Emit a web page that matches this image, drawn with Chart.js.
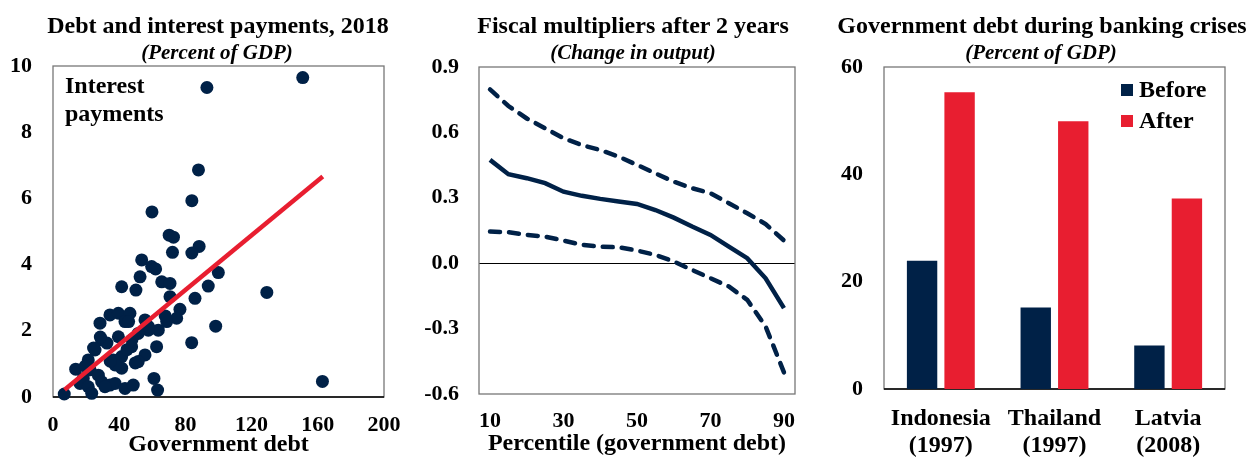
<!DOCTYPE html>
<html>
<head>
<meta charset="utf-8">
<script src="https://cdn.jsdelivr.net/npm/chart.js"></script>
<style>
  body { margin: 0; background: #fff; }
  #page { position: relative; width: 1250px; height: 459px; overflow: hidden;
          font-family: 'Liberation Serif', 'Times New Roman', serif; font-weight: bold; color: #000; }
  canvas { position: absolute; top: 0; }
  .title { position: absolute; top: 11px; width: 500px; text-align: center; font-size: 24px; line-height: 28px; white-space: nowrap; }
  .sub { position: absolute; top: 40px; width: 400px; text-align: center; font-size: 21px; line-height: 24px; font-style: italic; white-space: nowrap; }
  .note { position: absolute; font-size: 24px; line-height: 28px; }
  .key { position: absolute; font-size: 24px; line-height: 28px; white-space: nowrap; }
  .swatch { position: absolute; width: 12px; height: 12px; }
</style>
</head>
<body>
<div id="page">
  <canvas id="c1" width="400" height="459" style="left:0"></canvas>
  <canvas id="c2" width="420" height="459" style="left:400px"></canvas>
  <canvas id="c3" width="430" height="459" style="left:820px"></canvas>

  <div class="title" style="left:-32px">Debt and interest payments, 2018</div>
  <div class="sub" style="left:17px">(Percent of GDP)</div>
  <div class="note" style="left:65px; top:71px">Interest<br>payments</div>

  <div class="title" style="left:383px">Fiscal multipliers after 2 years</div>
  <div class="sub" style="left:433px">(Change in output)</div>

  <div class="title" style="left:792px">Government debt during banking crises</div>
  <div class="sub" style="left:841px">(Percent of GDP)</div>
  <div class="swatch" style="left:1121px; top:84px; background:#002147"></div>
  <div class="key" style="left:1139px; top:75px">Before</div>
  <div class="swatch" style="left:1121px; top:115px; background:#E81E30"></div>
  <div class="key" style="left:1139px; top:106px">After</div>
</div>
<script>
// panel 1: debt vs interest payments (percent of GDP)
const debtX = [150.9, 93, 87.9, 83.9, 59.8, 70.2, 72.8, 88.3, 83.9, 72.2, 53.6, 59.6, 62, 52.6, 65.7, 70.7,
  41.5, 50.1, 70.7, 85.8, 93.8, 99.9, 129.2, 76.7, 74.7, 68.7, 67.8, 63.6, 62.6, 83.8, 98.3, 28.4,
  34.4, 39.5, 46.5, 43.5, 55.6, 57.6, 51.5, 29.4, 25.4, 39.5, 47.5, 55.6, 51.5, 41.5, 36.4, 21.3,
  41.5, 37.5, 13.7, 22.4, 27.4, 18.3, 29.4, 34.4, 37.5, 16.3, 21.3, 43.5, 48.5, 61, 63.2, 6.8,
  23.4, 31.4, 162.8, 32.6, 44.7, 47.7, 57.7, 45.7, 34.6, 19.5, 28.6, 24.5, 49.7];
const interestY = [9.65, 9.35, 6.86, 5.93, 5.59, 4.89, 4.83, 4.55, 4.35, 4.37, 4.14, 3.94, 3.87, 3.63, 3.48, 3.43,
  3.33, 3.23, 3.03, 2.98, 3.35, 3.76, 3.16, 2.65, 2.38, 2.28, 2.45, 2.02, 1.52, 1.64, 2.14, 2.23,
  2.48, 2.53, 2.53, 2.28, 2.33, 2.02, 1.92, 1.72, 1.42, 1.82, 1.52, 1.27, 1.07, 1.22, 1.12, 1.12,
  0.87, 0.97, 0.84, 0.82, 0.66, 0.56, 0.46, 0.36, 0.41, 0.41, 0.31, 0.26, 0.36, 0.56, 0.21, 0.09,
  0.11, 0.31, 0.47, 1.63, 1.43, 1.73, 2.13, 2.28, 1.08, 0.93, 1.81, 1.48, 1.03];
const trendX = [7, 163];
const trendY = [0.22, 6.66];

// panel 2: multipliers by debt percentile
const percentile = [10, 15, 20, 25, 30, 35, 40, 45, 50, 55, 60, 65, 70, 75, 80, 85, 90];
const multiplier = [0.474, 0.408, 0.39, 0.367, 0.328, 0.309, 0.295, 0.283, 0.272, 0.244, 0.209, 0.168, 0.13, 0.076, 0.023, -0.069, -0.206];
const upperBand = [0.797, 0.721, 0.664, 0.619, 0.573, 0.542, 0.519, 0.489, 0.451, 0.412, 0.374, 0.344, 0.321, 0.275, 0.229, 0.18, 0.104];
const lowerBand = [0.145, 0.142, 0.13, 0.122, 0.104, 0.084, 0.076, 0.073, 0.058, 0.038, 0.008, -0.031, -0.069, -0.107, -0.168, -0.29, -0.501];
const pctTicks = [10, 30, 50, 70, 90];
const multTicks = [-0.6, -0.3, 0, 0.3, 0.6, 0.9];

// panel 3: debt before/after banking crises
const crisisCountries = ['Indonesia', 'Thailand', 'Latvia'];
const crisisYears = ['(1997)', '(1997)', '(2008)'];
const debtBefore = [23.9, 15.2, 8.1];
const debtAfter = [55.3, 49.9, 35.5];

const FONT = "'Liberation Serif', 'Times New Roman', serif";
const NAVY = '#002147';
const RED = '#E81E30';
Chart.defaults.font.family = FONT;
Chart.defaults.color = '#000';

const bold = size => ({ family: FONT, size: size, weight: 'bold' });
const pts = (xs, ys) => xs.map((x, i) => ({ x: x, y: ys[i] }));
const noGrid = { display: false, drawTicks: false };

// fixed axis sizes so the plot areas line up with the original
const fixHeight = h => s => { s.height = h; s.paddingLeft = 0; s.paddingRight = 0; };
const fixWidth = w => s => { s.width = w; s.paddingTop = 0; s.paddingBottom = 0; };

// plot frame, drawn under the marks
const frame = {
  id: 'frame',
  beforeDatasetsDraw(chart, args, opts) {
    const { ctx, chartArea: a } = chart;
    ctx.save();
    ctx.lineWidth = 1.3;
    ctx.strokeStyle = '#777';
    ctx.strokeRect(a.left, a.top, a.right - a.left, a.bottom - a.top);
    if (opts.base) {
      ctx.strokeStyle = opts.base;
      ctx.beginPath();
      ctx.moveTo(a.left, a.bottom);
      ctx.lineTo(a.right, a.bottom);
      ctx.stroke();
    }
    ctx.restore();
  }
};

const common = {
  responsive: false,
  animation: false,
  events: [],
};

new Chart(document.getElementById('c1'), {
  type: 'scatter',
  data: {
    datasets: [
      { type: 'line', data: pts(trendX, trendY), borderColor: RED, borderWidth: 4.5, pointRadius: 0, order: 0 },
      { data: pts(debtX, interestY), backgroundColor: NAVY, borderWidth: 0, pointRadius: 6.5, clip: false, order: 1 }
    ]
  },
  options: {
    ...common,
    layout: { padding: { left: 0, right: 16, top: 66, bottom: 0 } },
    plugins: { legend: { display: false }, tooltip: { enabled: false }, frame: { base: '#000' } },
    scales: {
      x: {
        type: 'linear', min: 0, max: 200,
        afterFit: fixHeight(62),
        grid: noGrid, border: { display: false },
        ticks: { stepSize: 40, padding: 15, font: bold(22), color: '#000', maxRotation: 0 },
        title: { display: true, text: 'Government debt', font: bold(24), color: '#000', padding: 0 }
      },
      y: {
        min: 0, max: 10,
        afterFit: fixWidth(53),
        grid: noGrid, border: { display: false },
        ticks: { stepSize: 2, padding: 21, font: bold(22), color: '#000' }
      }
    }
  },
  plugins: [frame]
});

const band = data => ({
  data: data, borderColor: NAVY, borderWidth: 4.5, borderDash: [10, 9], borderCapStyle: 'round', pointRadius: 0
});

new Chart(document.getElementById('c2'), {
  type: 'line',
  data: {
    datasets: [
      { data: pts(percentile, multiplier), borderColor: NAVY, borderWidth: 4.5, pointRadius: 0 },
      band(pts(percentile, upperBand)),
      band(pts(percentile, lowerBand))
    ]
  },
  options: {
    ...common,
    layout: { padding: { left: 0, right: 25, top: 67, bottom: 0 } },
    plugins: { legend: { display: false }, tooltip: { enabled: false }, frame: {} },
    scales: {
      x: {
        type: 'linear', min: 7, max: 93,
        afterBuildTicks: s => { s.ticks = pctTicks.map(v => ({ value: v })); },
        afterFit: fixHeight(65),
        grid: noGrid, border: { display: false },
        ticks: { padding: 14, font: bold(22), color: '#000', maxRotation: 0 },
        title: { display: true, text: 'Percentile (government debt)', font: bold(24), color: '#000', padding: { top: 0, bottom: 1 } }
      },
      y: {
        min: -0.6, max: 0.9,
        afterBuildTicks: s => { s.ticks = multTicks.map(v => ({ value: v })); },
        afterFit: fixWidth(79),
        grid: {
          drawTicks: false, lineWidth: 1,
          color: c => Math.abs(c.tick.value) < 1e-9 ? '#000' : 'rgba(0,0,0,0)'
        },
        border: { display: false },
        ticks: { padding: 20, font: bold(22), color: '#000', callback: v => v.toFixed(1) }
      }
    }
  },
  plugins: [frame]
});

new Chart(document.getElementById('c3'), {
  type: 'bar',
  data: {
    labels: crisisCountries.map((c, i) => [c, crisisYears[i]]),
    datasets: [
      { label: 'Before', data: debtBefore, backgroundColor: NAVY, categoryPercentage: 0.66, barPercentage: 0.81 },
      { label: 'After', data: debtAfter, backgroundColor: RED, categoryPercentage: 0.66, barPercentage: 0.81 }
    ]
  },
  options: {
    ...common,
    layout: { padding: { left: 0, right: 25, top: 67, bottom: 0 } },
    plugins: { legend: { display: false }, tooltip: { enabled: false }, frame: { base: '#000' } },
    scales: {
      x: {
        afterFit: fixHeight(70),
        grid: noGrid, border: { display: false },
        ticks: { padding: 15.5, font: { family: FONT, size: 24, weight: 'bold', lineHeight: 1.15 }, color: '#000', maxRotation: 0, autoSkip: false }
      },
      y: {
        min: 0, max: 60,
        afterFit: fixWidth(64),
        grid: noGrid, border: { display: false },
        ticks: { stepSize: 20, padding: 21, font: bold(22), color: '#000' }
      }
    }
  },
  plugins: [frame]
});
</script>
</body>
</html>
